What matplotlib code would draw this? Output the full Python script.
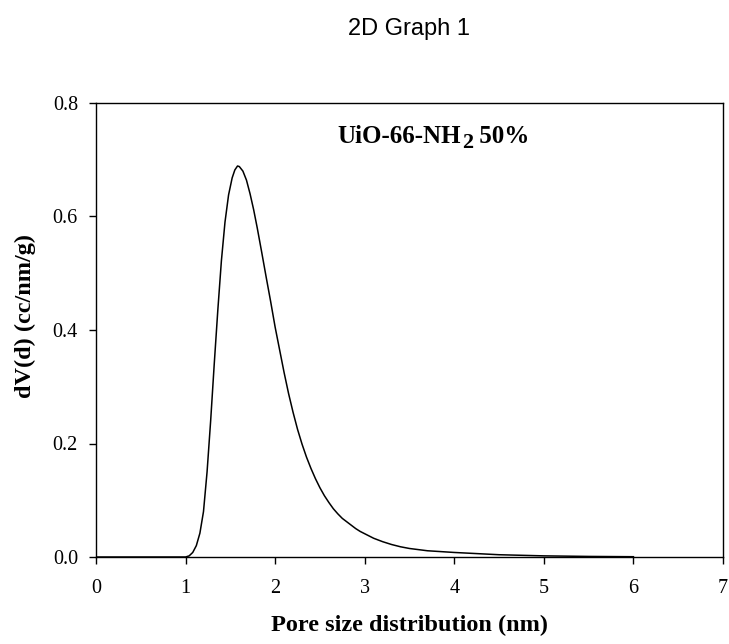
import matplotlib
matplotlib.use("Agg")
import matplotlib.pyplot as plt

# Pore size distribution (nm) and differential pore volume dV(d) (cc/nm/g)
pore_size = [0.0, 0.5, 0.9, 1.0, 1.04, 1.08, 1.12, 1.16, 1.20, 1.24, 1.28,
             1.32, 1.36, 1.40, 1.44, 1.48, 1.52, 1.55, 1.58, 1.60, 1.64,
             1.68, 1.72, 1.76, 1.80, 1.85, 1.90, 1.95, 2.00, 2.05, 2.10,
             2.15, 2.20, 2.25, 2.30, 2.35, 2.40, 2.45, 2.50, 2.55, 2.60,
             2.65, 2.70, 2.75, 2.80, 2.85, 2.90, 2.95, 3.00, 3.10, 3.20,
             3.30, 3.40, 3.50, 3.60, 3.70, 3.80, 3.90, 4.00, 4.25, 4.50,
             4.75, 5.00, 5.50, 6.00]
dv = [0.0, 0.0, 0.0, 0.0, 0.002, 0.008, 0.020, 0.042, 0.080, 0.150, 0.240,
      0.340, 0.435, 0.522, 0.590, 0.638, 0.668, 0.682, 0.689, 0.688, 0.680,
      0.664, 0.640, 0.612, 0.580, 0.537, 0.493, 0.450, 0.405, 0.365, 0.325,
      0.288, 0.255, 0.225, 0.199, 0.176, 0.156, 0.138, 0.122, 0.108, 0.096,
      0.085, 0.076, 0.068, 0.062, 0.056, 0.050, 0.045, 0.041, 0.033, 0.027,
      0.022, 0.018, 0.015, 0.013, 0.011, 0.010, 0.009, 0.008, 0.006, 0.004,
      0.003, 0.002, 0.001, 0.0005]

x_ticks = [0, 1, 2, 3, 4, 5, 6, 7]
y_ticks = [0.0, 0.2, 0.4, 0.6, 0.8]

serif = "Liberation Serif"

fig = plt.figure(figsize=(7.29, 6.44), dpi=100)
ax = fig.add_axes([96 / 729, 87 / 644, 627 / 729, 454 / 644])

ax.plot(pore_size, dv, color="black", lw=1.1, solid_joinstyle="round")

ax.set_xlim(0, 7)
ax.set_ylim(0, 0.8)
ax.set_xticks(x_ticks)
ax.set_xticklabels([str(t) for t in x_ticks])
ax.set_yticks(y_ticks)
ax.set_yticklabels([f"{t:.1f}" for t in y_ticks])

for sp in ax.spines.values():
    sp.set_linewidth(1.0)
    sp.set_color("black")
ax.tick_params(direction="out", length=5, width=1.0, top=False, right=False)
ax.tick_params(axis="x", pad=10.5)
ax.tick_params(axis="y", pad=8)
for lab in ax.get_xticklabels() + ax.get_yticklabels():
    lab.set_family(serif)
    lab.set_fontsize(14.5)

ax.set_xlabel("Pore size distribution (nm)", family=serif,
              fontweight="bold", fontsize=17.5)
ax.xaxis.set_label_coords(0.5, -0.128)
ax.set_ylabel("dV(d) (cc/nm/g)", family=serif,
              fontweight="bold", fontsize=17.5)
ax.yaxis.set_label_coords(-0.096, 0.53)

# Sample label with a large, dropped subscript "2"
lbl_main = ax.text(2.70, 0.73, "UiO-66-NH", family=serif,
                   fontweight="bold", fontsize=18, va="baseline", ha="left")
lbl_sub = ax.annotate("2", xy=(1, 0), xycoords=lbl_main,
                      xytext=(0.3, -3.6), textcoords="offset points",
                      family=serif, fontweight="bold", fontsize=16,
                      va="bottom", ha="left")
ax.annotate(" 50%", xy=(1, 0), xycoords=lbl_sub,
            xytext=(0, 3.6), textcoords="offset points",
            family=serif, fontweight="bold", fontsize=18,
            va="bottom", ha="left")

fig.text(409 / 729, 1 - 35 / 644, "2D Graph 1", family="Liberation Sans",
         fontsize=17, ha="center", va="baseline")

fig.savefig("out.png", dpi=100)
